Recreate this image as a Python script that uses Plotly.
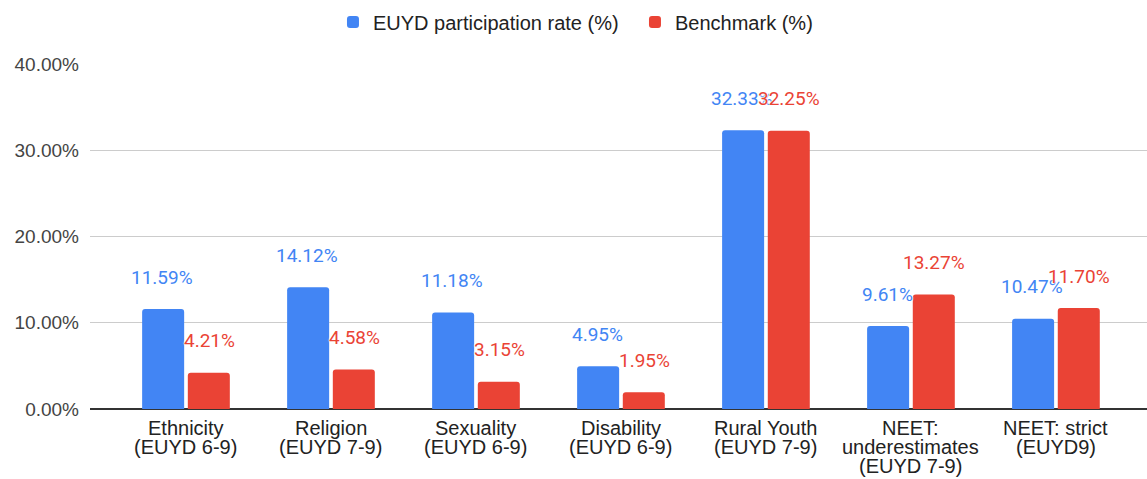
import plotly.graph_objects as go

categories = [
    "Ethnicity<br>(EUYD 6-9)",
    "Religion<br>(EUYD 7-9)",
    "Sexuality<br>(EUYD 6-9)",
    "Disability<br>(EUYD 6-9)",
    "Rural Youth<br>(EUYD 7-9)",
    "NEET:<br>underestimates<br>(EUYD 7-9)",
    "NEET: strict<br>(EUYD9)",
]
euyd_rate = [11.59, 14.12, 11.18, 4.95, 32.33, 9.61, 10.47]
benchmark = [4.21, 4.58, 3.15, 1.95, 32.25, 13.27, 11.70]
y_ticks = [0, 10, 20, 30, 40]

BLUE = "#4285F4"
RED = "#EA4335"
LABEL_FONT = "Roboto, Arial, sans-serif"
TEXT_FONT = "Liberation Sans, Arial, sans-serif"

fig = go.Figure()
fig.add_trace(go.Bar(name="EUYD participation rate (%)", x=categories, y=euyd_rate,
                     marker=dict(color=BLUE, line=dict(width=0))))
fig.add_trace(go.Bar(name="Benchmark (%)", x=categories, y=benchmark,
                     marker=dict(color=RED, line=dict(width=0))))

annotations = []
# data labels
for series, color, shift in [(euyd_rate, BLUE, -23.5), (benchmark, RED, 23.5)]:
    for c, v in zip(categories, series):
        annotations.append(dict(
            x=c, y=v, xref="x", yref="y", text=f"{v:.2f}%", showarrow=False,
            xshift=shift, yshift=32, yanchor="middle", xanchor="center",
            font=dict(family=LABEL_FONT, size=19, color=color,
                      shadow="0px 0px 2px white, 0px 0px 2px white, 0px 0px 2px white"),
        ))
# category labels (tight line spacing)
for c in categories:
    for i, line in enumerate(c.split("<br>")):
        annotations.append(dict(
            x=c, y=0, xref="x", yref="y", text=line, showarrow=False,
            yshift=-19 - i * 18.8, yanchor="middle", xanchor="center",
            font=dict(family=TEXT_FONT, size=20, color="#222222"),
        ))

fig.update_layout(
    width=1147, height=479,
    margin=dict(l=90, r=0, t=64, b=70, autoexpand=False),
    paper_bgcolor="white", plot_bgcolor="white",
    font=dict(family=TEXT_FONT, size=19, color="#222222"),
    barmode="group", bargap=0.37, bargroupgap=0.08, barcornerradius=3,
    showlegend=True,
    legend=dict(orientation="h", xref="container", yref="container",
                x=0.2903, xanchor="left", y=0.954, yanchor="middle",
                entrywidth=257, entrywidthmode="pixels",
                font=dict(family=TEXT_FONT, size=20, color="#222222"),
                traceorder="normal"),
    annotations=annotations,
    xaxis=dict(range=[-0.662, 6.628], showgrid=False, showline=False,
               ticks="", showticklabels=False),
    yaxis=dict(range=[0, 40], tickvals=y_ticks,
               ticktext=[f"{t:.2f}%" for t in y_ticks],
               showgrid=True, gridcolor="#cccccc", gridwidth=1,
               zeroline=True, zerolinecolor="#333333", zerolinewidth=1.5,
               showline=False, ticks="", ticklabelstandoff=10, automargin=False,
               tickfont=dict(family=TEXT_FONT, size=19, color="#444444")),
)

fig.write_html("out.html",
               config={"displayModeBar": False},
               post_script="document.body.style.margin='0';document.body.style.overflow='hidden';")
